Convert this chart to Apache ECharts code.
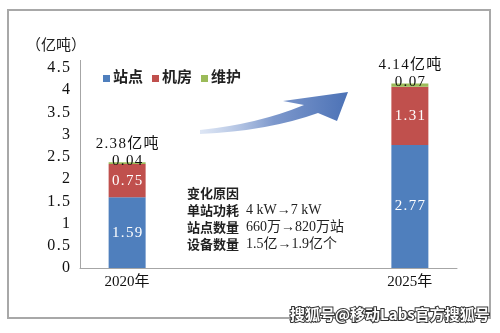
<!DOCTYPE html>
<html>
<head>
<meta charset="utf-8">
<script src="https://cdn.jsdelivr.net/npm/echarts@6/dist/echarts.min.js"></script>
<style>
  html, body { margin: 0; padding: 0; background: #ffffff; }
  #chart { width: 500px; height: 333px; }
</style>
</head>
<body>
<div id="chart"></div>
<script>
// Years shown on the category axis
const years = ['2020年', '2025年'];
// Emissions split by source (亿吨)
const siteValues = [1.59, 2.77];     // 站点
const roomValues = [0.75, 1.31];     // 机房
const maintValues = [0.04, 0.07];    // 维护
// Stated totals above each stack
const totalLabels = ['2.38亿吨', '4.14亿吨'];
// Notes in the middle of the plot: [heading, figures]
const noteHeads = ['变化原因', '单站功耗', '站点数量', '设备数量'];
const noteFigures = ['', '4 kW→7 kW', '660万→820万站', '1.5亿→1.9亿个'];

const serif = '"Liberation Serif", "Noto Sans CJK SC", serif';
const cjk = '"Liberation Serif", "Noto Sans CJK SC", sans-serif';

// Widen number spacing with hair spaces between characters
const HS = '\u200A';
const spaced = s => s.split('').join(HS);

// Curved arrow shape used as decoration between the two stacks
echarts.graphic.registerShape('growthArrow', echarts.graphic.extendShape({
  shape: {},
  buildPath: function (ctx) {
    ctx.moveTo(200, 134);
    ctx.quadraticCurveTo(268, 131, 318, 113);
    ctx.lineTo(337, 121);
    ctx.lineTo(348, 92);
    ctx.lineTo(283, 101);
    ctx.lineTo(304, 105);
    ctx.quadraticCurveTo(258, 124, 200, 130);
    ctx.closePath();
  }
}));

// The two years sit at the outer slots of a four-slot axis, leaving room for notes between them
const slots = [years[0], '', '', years[1]];
const spread = arr => [arr[0], '-', '-', arr[1]];
const totalsBySlot = [totalLabels[0], '', '', totalLabels[1]];

const chart = echarts.init(document.getElementById('chart'), null, { renderer: 'canvas' });

const barW = 37;
const insideLabel = {
  show: true,
  position: 'inside',
  color: '#ffffff',
  fontFamily: serif,
  fontSize: 15,
  formatter: p => spaced(p.value.toFixed(2))
};

const noteText = noteHeads.map((h, i) =>
  '{h|' + h + '}' + (noteFigures[i] ? '{f|  ' + noteFigures[i] + '}' : '')
).join('\n');

chart.setOption({
  backgroundColor: '#ffffff',
  animation: false,
  grid: { left: 80, right: 43, top: 68, bottom: 65 },
  legend: {
    left: 98,
    top: 66,
    itemWidth: 7,
    itemHeight: 7,
    itemGap: 9,
    icon: 'rect',
    textStyle: { fontFamily: cjk, fontSize: 15, fontWeight: 'bold', color: '#222', padding: [0, 0, 0, -2] },
    data: ['站点', '机房', '维护']
  },
  xAxis: {
    type: 'category',
    data: slots,
    axisLine: { lineStyle: { color: '#a6a6a6', width: 1 } },
    axisTick: { show: false },
    axisLabel: { fontFamily: cjk, fontSize: 15, color: '#111', margin: 7 }
  },
  yAxis: {
    type: 'value',
    min: 0,
    max: 4.5,
    interval: 0.5,
    splitLine: { show: false },
    axisTick: { show: false },
    axisLine: { show: true, lineStyle: { color: '#a6a6a6', width: 1 } },
    axisLabel: { fontFamily: serif, fontSize: 16, color: '#111', margin: 10, formatter: v => spaced(String(v)) }
  },
  series: [
    {
      name: '站点', type: 'bar', stack: 'total', barWidth: barW,
      data: spread(siteValues),
      itemStyle: { color: '#4f7fbd' },
      label: insideLabel
    },
    {
      name: '机房', type: 'bar', stack: 'total', barWidth: barW,
      data: spread(roomValues),
      itemStyle: { color: '#c0504d' },
      label: insideLabel
    },
    {
      name: '维护', type: 'bar', stack: 'total', barWidth: barW,
      data: spread(maintValues),
      itemStyle: { color: '#9bbb59' },
      label: {
        show: true,
        position: 'top',
        distance: -7,
        formatter: p => '{t|' + spaced(totalsBySlot[p.dataIndex]) + '}\n{v|' + spaced(p.value.toFixed(2)) + '}',
        rich: {
          t: { fontFamily: cjk, fontSize: 15, color: '#111', lineHeight: 18 },
          v: { fontFamily: serif, fontSize: 15, color: '#111', lineHeight: 16 }
        }
      }
    }
  ],
  graphic: [
    // outer frame
    {
      type: 'rect', silent: true, z: 0,
      shape: { x: 8, y: 10, width: 482, height: 308 },
      style: { fill: 'none', stroke: '#a8a8a8', lineWidth: 2 }
    },
    // value axis runs a little past its top tick
    {
      type: 'line', silent: true,
      shape: { x1: 80.5, y1: 60, x2: 80.5, y2: 69 },
      style: { stroke: '#a6a6a6', lineWidth: 1 }
    },
    // unit caption
    {
      type: 'text', x: 26, y: 37,
      style: { text: '（亿吨）', fontFamily: '"Noto Sans CJK SC", sans-serif', fontSize: 15, fill: '#222' }
    },
    // growth arrow
    {
      type: 'growthArrow', silent: true, z: 1,
      style: {
        fill: {
          type: 'linear', x: 0, y: 0, x2: 1, y2: 0,
          colorStops: [
            { offset: 0, color: 'rgba(200,214,238,0.6)' },
            { offset: 0.5, color: '#7d98cc' },
            { offset: 1, color: '#4c72b6' }
          ]
        }
      }
    },
    // notes
    {
      type: 'text', x: 187, y: 184,
      style: {
        text: noteText,
        rich: {
          h: { fontFamily: '"Noto Sans CJK SC", sans-serif', fontSize: 13, fontWeight: 'bold', lineHeight: 17.3, fill: '#222' },
          f: { fontFamily: cjk, fontSize: 14, lineHeight: 17.3, fill: '#222' }
        }
      }
    },
    // watermark
    {
      type: 'text', x: 290, y: 307,
      style: {
        text: '搜狐号@移动Labs官方搜狐号',
        fontFamily: '"Noto Sans CJK SC", sans-serif', fontSize: 15, fontWeight: 'bold',
        fill: '#ffffff', stroke: '#333333', lineWidth: 2
      }
    }
  ]
});
</script>
</body>
</html>
